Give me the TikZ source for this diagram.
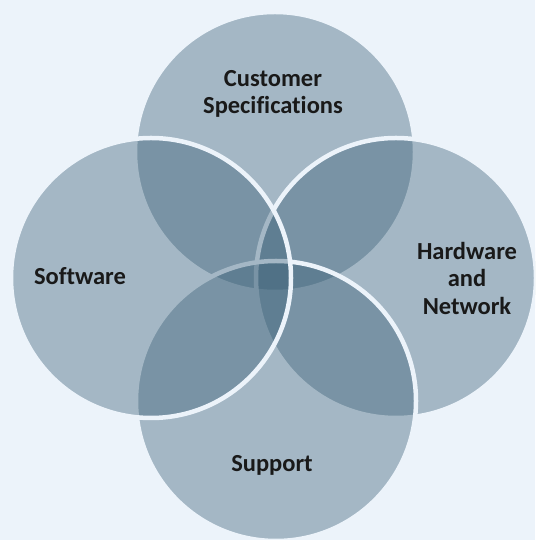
\documentclass[tikz,border=0pt]{standalone}
\usepackage{fontspec}
\setmainfont{Carlito}[Ligatures=NoCommon]

\definecolor{pagebg}{RGB}{236,243,250}
\definecolor{vennfill}{RGB}{58,95,118}

\tikzset{
  venn/.style={draw=pagebg, line width=4.5pt, fill=vennfill, fill opacity=0.4},
  vennlabel/.style={font=\bfseries\fontsize{24.5}{27.5}\selectfont, align=center, text=black!90}
}

\begin{document}
\begin{tikzpicture}[x=1pt,y=1pt]

\fill[pagebg] (0,0) rectangle (535,540);
\useasboundingbox (0,0) rectangle (535,540);

\begin{scope}
\clip (0,0) rectangle (535,540);
\foreach \cx/\cy in {275/388, 396/262, 276/139, 151/262} {
  \draw[venn] (\cx,\cy) circle (140pt);
}
\end{scope}

\node[vennlabel] (custspec) at (273,446) {Customer\\Specifications};
\node[vennlabel, anchor=base] (software) at (80,255) {Software};
\node[vennlabel] (hardware) at (467,262) {Hardware\\and\\Network};
\node[vennlabel, anchor=base] (support) at (272,68) {Support};

\end{tikzpicture}
\end{document}
